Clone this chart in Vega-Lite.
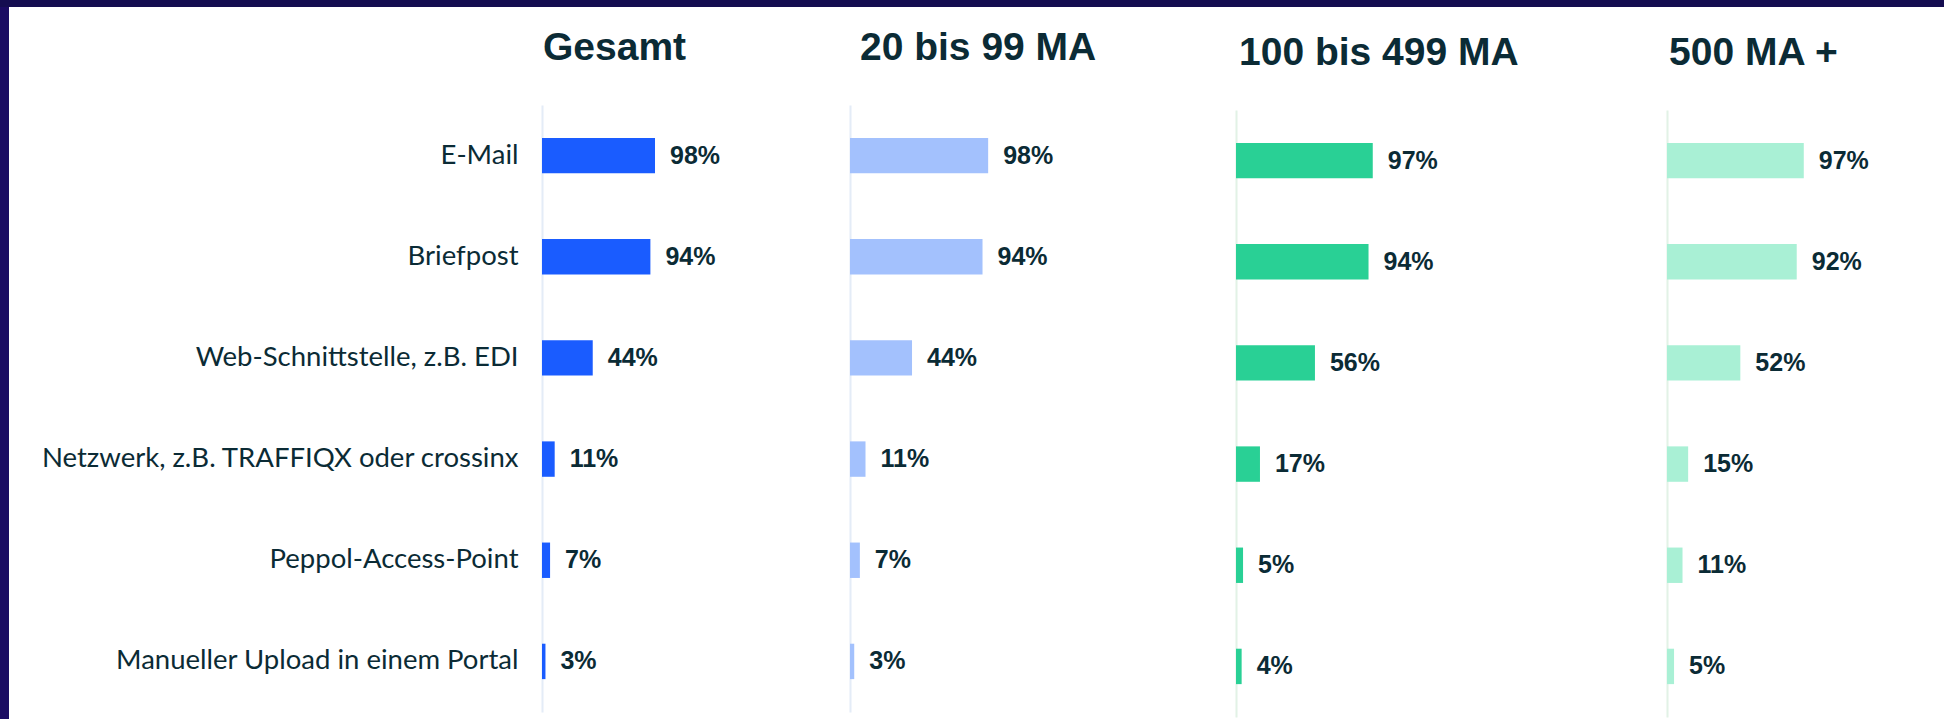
{
  "$schema": "https://vega.github.io/schema/vega-lite/v6.json",
  "background": "white",
  "padding": 0,
  "spacing": 0,
  "config": {
    "font": "Liberation Sans",
    "view": {"stroke": null},
    "concat": {"spacing": 0},
    "title": {"anchor": "start", "frame": "group", "fontSize": 39, "fontWeight": "bold", "color": "#0b2b35", "font": "Liberation Sans", "offset": 37},
    "axisY": {"ticks": false, "grid": false, "title": null, "domainWidth": 2}
  },
  "datasets": {
    "d": [
      {"g": "Gesamt", "c": "E-Mail", "p": 0.98},
      {"g": "Gesamt", "c": "Briefpost", "p": 0.94},
      {"g": "Gesamt", "c": "Web-Schnittstelle, z.B. EDI", "p": 0.44},
      {"g": "Gesamt", "c": "Netzwerk, z.B. TRAFFIQX oder crossinx", "p": 0.11},
      {"g": "Gesamt", "c": "Peppol-Access-Point", "p": 0.07},
      {"g": "Gesamt", "c": "Manueller Upload in einem Portal", "p": 0.03},
      {"g": "20 bis 99 MA", "c": "E-Mail", "p": 0.98},
      {"g": "20 bis 99 MA", "c": "Briefpost", "p": 0.94},
      {"g": "20 bis 99 MA", "c": "Web-Schnittstelle, z.B. EDI", "p": 0.44},
      {"g": "20 bis 99 MA", "c": "Netzwerk, z.B. TRAFFIQX oder crossinx", "p": 0.11},
      {"g": "20 bis 99 MA", "c": "Peppol-Access-Point", "p": 0.07},
      {"g": "20 bis 99 MA", "c": "Manueller Upload in einem Portal", "p": 0.03},
      {"g": "100 bis 499 MA", "c": "E-Mail", "p": 0.97},
      {"g": "100 bis 499 MA", "c": "Briefpost", "p": 0.94},
      {"g": "100 bis 499 MA", "c": "Web-Schnittstelle, z.B. EDI", "p": 0.56},
      {"g": "100 bis 499 MA", "c": "Netzwerk, z.B. TRAFFIQX oder crossinx", "p": 0.17},
      {"g": "100 bis 499 MA", "c": "Peppol-Access-Point", "p": 0.05},
      {"g": "100 bis 499 MA", "c": "Manueller Upload in einem Portal", "p": 0.04},
      {"g": "500 MA +", "c": "E-Mail", "p": 0.97},
      {"g": "500 MA +", "c": "Briefpost", "p": 0.92},
      {"g": "500 MA +", "c": "Web-Schnittstelle, z.B. EDI", "p": 0.52},
      {"g": "500 MA +", "c": "Netzwerk, z.B. TRAFFIQX oder crossinx", "p": 0.15},
      {"g": "500 MA +", "c": "Peppol-Access-Point", "p": 0.11},
      {"g": "500 MA +", "c": "Manueller Upload in einem Portal", "p": 0.05}
    ]
  },
  "vconcat": [
    {
      "width": 1944, "height": 7,
      "data": {"values": []},
      "mark": {"type": "rule"},
      "encoding": {},
      "view": {"fill": "#140d50", "stroke": null}
    },
    {
      "spacing": 0,
      "hconcat": [
        {
          "width": 9, "height": 712,
          "data": {"values": []},
          "mark": {"type": "rule"},
          "encoding": {},
          "view": {"fill": "#1b0c63", "stroke": null}
        },
        {
          "spacing": 21,
          "vconcat": [
            {
              "width": 1, "height": 1,
              "data": {"values": []},
              "mark": {"type": "rule"},
              "encoding": {}
            },
            {
              "spacing": 0,
              "hconcat": [
                {
                  "width": 308, "height": 607,
                  "data": {"name": "d"},
                  "title": {"text": "Gesamt", "dx": 1},
                  "transform": [{"filter": "datum.g === 'Gesamt'"}],
                  "encoding": {
                    "y": {"field": "c", "type": "nominal",
                      "sort": ["E-Mail", "Briefpost", "Web-Schnittstelle, z.B. EDI", "Netzwerk, z.B. TRAFFIQX oder crossinx", "Peppol-Access-Point", "Manueller Upload in einem Portal"],
                      "scale": {"paddingInner": 0.65, "paddingOuter": 0.325},
                      "axis": {"labelFont": "Lato", "labelFontSize": 27.5, "labelColor": "#0b2b35", "labelPadding": 24, "labelLimit": 700, "minExtent": 533, "domainColor": "#e4ecf7"}},
                    "x": {"field": "p", "type": "quantitative", "scale": {"domain": [0, 2.671]}, "axis": null}
                  },
                  "layer": [
                    {"mark": {"type": "bar", "color": "#1a5cff"}},
                    {"mark": {"type": "text", "align": "left", "baseline": "middle", "dx": 15, "fontSize": 25, "fontWeight": "bold", "color": "#0b2b35"},
                     "encoding": {"text": {"field": "p", "type": "quantitative", "format": ".0%"}}}
                  ]
                },
                {
                  "width": 386, "height": 607,
                  "data": {"name": "d"},
                  "title": {"text": "20 bis 99 MA", "dx": 10},
                  "transform": [{"filter": "datum.g === '20 bis 99 MA'"}],
                  "encoding": {
                    "y": {"field": "c", "type": "nominal",
                      "sort": ["E-Mail", "Briefpost", "Web-Schnittstelle, z.B. EDI", "Netzwerk, z.B. TRAFFIQX oder crossinx", "Peppol-Access-Point", "Manueller Upload in einem Portal"],
                      "scale": {"paddingInner": 0.65, "paddingOuter": 0.325},
                      "axis": {"labels": false, "minExtent": 0, "domainColor": "#e4ecf7"}},
                    "x": {"field": "p", "type": "quantitative", "scale": {"domain": [0, 2.738]}, "axis": null}
                  },
                  "layer": [
                    {"mark": {"type": "bar", "color": "#a3c1fd"}},
                    {"mark": {"type": "text", "align": "left", "baseline": "middle", "dx": 15, "fontSize": 25, "fontWeight": "bold", "color": "#0b2b35"},
                     "encoding": {"text": {"field": "p", "type": "quantitative", "format": ".0%"}}}
                  ]
                }
              ]
            }
          ]
        },
        {
          "spacing": 26,
          "vconcat": [
            {
              "width": 1, "height": 1,
              "data": {"values": []},
              "mark": {"type": "rule"},
              "encoding": {}
            },
            {
              "spacing": 0,
              "hconcat": [
                {
                  "width": 431, "height": 607,
                  "data": {"name": "d"},
                  "title": {"text": "100 bis 499 MA", "dx": 3},
                  "transform": [{"filter": "datum.g === '100 bis 499 MA'"}],
                  "encoding": {
                    "y": {"field": "c", "type": "nominal",
                      "sort": ["E-Mail", "Briefpost", "Web-Schnittstelle, z.B. EDI", "Netzwerk, z.B. TRAFFIQX oder crossinx", "Peppol-Access-Point", "Manueller Upload in einem Portal"],
                      "scale": {"paddingInner": 0.65, "paddingOuter": 0.325},
                      "axis": {"labels": false, "minExtent": 0, "domainColor": "#e2f2e6"}},
                    "x": {"field": "p", "type": "quantitative", "scale": {"domain": [0, 3.057]}, "axis": null}
                  },
                  "layer": [
                    {"mark": {"type": "bar", "color": "#29d095"}},
                    {"mark": {"type": "text", "align": "left", "baseline": "middle", "dx": 15, "fontSize": 25, "fontWeight": "bold", "color": "#0b2b35"},
                     "encoding": {"text": {"field": "p", "type": "quantitative", "format": ".0%"}}}
                  ]
                },
                {
                  "width": 273, "height": 607,
                  "data": {"name": "d"},
                  "title": {"text": "500 MA +", "dx": 2},
                  "transform": [{"filter": "datum.g === '500 MA +'"}],
                  "encoding": {
                    "y": {"field": "c", "type": "nominal",
                      "sort": ["E-Mail", "Briefpost", "Web-Schnittstelle, z.B. EDI", "Netzwerk, z.B. TRAFFIQX oder crossinx", "Peppol-Access-Point", "Manueller Upload in einem Portal"],
                      "scale": {"paddingInner": 0.65, "paddingOuter": 0.325},
                      "axis": {"labels": false, "minExtent": 0, "domainColor": "#e2f2e6"}},
                    "x": {"field": "p", "type": "quantitative", "scale": {"domain": [0, 1.936]}, "axis": null}
                  },
                  "layer": [
                    {"mark": {"type": "bar", "color": "#a9f0d5"}},
                    {"mark": {"type": "text", "align": "left", "baseline": "middle", "dx": 15, "fontSize": 25, "fontWeight": "bold", "color": "#0b2b35"},
                     "encoding": {"text": {"field": "p", "type": "quantitative", "format": ".0%"}}}
                  ]
                }
              ]
            }
          ]
        }
      ]
    }
  ]
}
